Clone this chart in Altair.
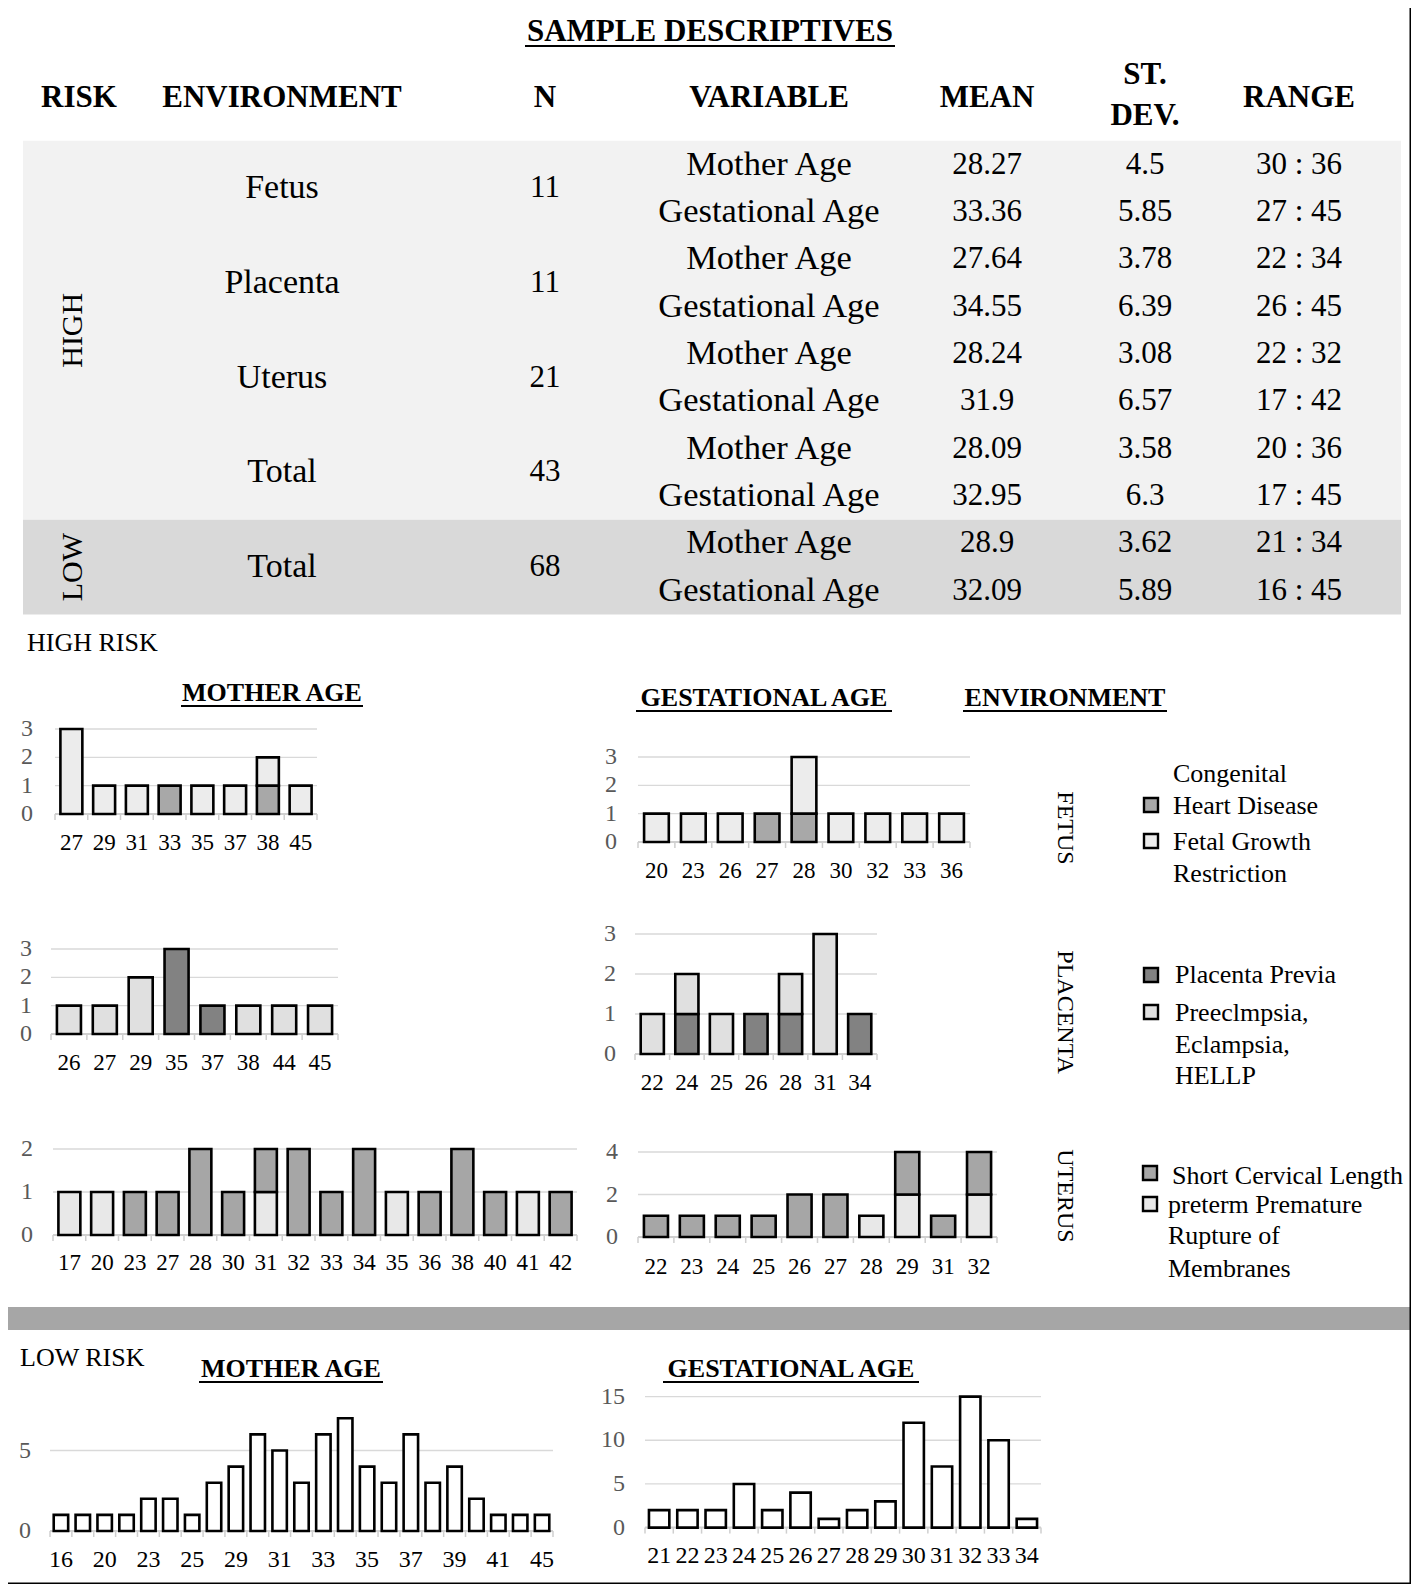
import altair as alt
import pandas as pd

OFF = 8
W, H = 1403, 1576
SERIF = "Liberation Serif"


def X(v):
    return v - OFF


def Y(v):
    return v - OFF


# ---------------- table values
risk_levels = ["HIGH", "LOW"]
environments = ["Fetus", "Placenta", "Uterus", "Total", "Total"]
env_n = ["11", "11", "21", "43", "68"]
variables = ["Mother Age", "Gestational Age"] * 5
means = ["28.27", "33.36", "27.64", "34.55", "28.24", "31.9", "28.09", "32.95", "28.9", "32.09"]
sds = ["4.5", "5.85", "3.78", "6.39", "3.08", "6.57", "3.58", "6.3", "3.62", "5.89"]
ranges = ["30 : 36", "27 : 45", "22 : 34", "26 : 45", "22 : 32", "17 : 42",
          "20 : 36", "17 : 45", "21 : 34", "16 : 45"]

# ---------------- high risk charts
ma_fetus_cats = ["27", "29", "31", "33", "35", "37", "38", "45"]
ma_fetus_chd = [0, 0, 0, 1, 0, 0, 1, 0]
ma_fetus_fgr = [3, 1, 1, 0, 1, 1, 1, 1]
ga_fetus_cats = ["20", "23", "26", "27", "28", "30", "32", "33", "36"]
ga_fetus_chd = [0, 0, 0, 1, 1, 0, 0, 0, 0]
ga_fetus_fgr = [1, 1, 1, 0, 2, 1, 1, 1, 1]

ma_plac_cats = ["26", "27", "29", "35", "37", "38", "44", "45"]
ma_plac_pp = [0, 0, 0, 3, 1, 0, 0, 0]
ma_plac_pe = [1, 1, 2, 0, 0, 1, 1, 1]
ga_plac_cats = ["22", "24", "25", "26", "28", "31", "34"]
ga_plac_pp = [0, 1, 0, 1, 1, 0, 1]
ga_plac_pe = [1, 1, 1, 0, 1, 3, 0]

ma_ut_cats = ["17", "20", "23", "27", "28", "30", "31", "32", "33", "34", "35", "36", "38", "40", "41", "42"]
ma_ut_scl = [0, 0, 1, 1, 2, 1, 1, 2, 1, 2, 0, 1, 2, 1, 0, 1]
ma_ut_prom = [1, 1, 0, 0, 0, 0, 1, 0, 0, 0, 1, 0, 0, 0, 1, 0]
ga_ut_cats = ["22", "23", "24", "25", "26", "27", "28", "29", "31", "32"]
ga_ut_scl = [1, 1, 1, 1, 2, 2, 0, 3, 1, 4]
ga_ut_prom = [0, 0, 0, 0, 0, 0, 1, 2, 0, 2]

# ---------------- low risk charts
low_ma_cats = ["16", "18", "20", "22", "23", "24", "25", "27", "29", "30", "31", "32",
               "33", "34", "35", "36", "37", "38", "39", "40", "41", "43", "45"]
low_ma_counts = [1, 1, 1, 1, 2, 2, 1, 3, 4, 6, 5, 3, 6, 7, 4, 3, 6, 3, 4, 2, 1, 1, 1]
low_ma_shown = ["16", "20", "23", "25", "29", "31", "33", "35", "37", "39", "41", "45"]
low_ga_cats = ["21", "22", "23", "24", "25", "26", "27", "28", "29", "30", "31", "32", "33", "34"]
low_ga_counts = [2, 2, 2, 5, 2, 4, 1, 2, 3, 12, 7, 15, 10, 1]

# series names (bottom -> top of stack)
fetus_series = ["Congenital Heart Disease", "Fetal Growth Restriction"]
plac_series = ["Placenta Previa", "Preeclmpsia, Eclampsia, HELLP"]
ut_series = ["preterm Premature Rupture of Membranes", "Short Cervical Length"]

fetus_colors = ["#a8a8a8", "#ececec"]
plac_colors = ["#828282", "#e0e0e0"]
ut_colors = ["#e8e8e8", "#a6a6a6"]


def txt(s, x, y, size, bold=False, align="center", angle=0, color="black"):
    kw = dict(font=SERIF, fontSize=size, align=align, baseline="middle", color=color)
    if bold:
        kw["fontWeight"] = "bold"
    if angle:
        kw["angle"] = angle
    return alt.Chart(pd.DataFrame({"t": [s]})).mark_text(**kw).encode(
        x=alt.value(X(x)), y=alt.value(Y(y)), text="t:N")


def hline(x0, x1, y, color="black", w=2):
    return alt.Chart(pd.DataFrame({"a": [0]})).mark_rule(color=color, strokeWidth=w).encode(
        x=alt.value(X(x0)), x2=alt.value(X(x1)), y=alt.value(Y(y)))


def box(x0, x1, y0, y1, fill, stroke=None, sw=0):
    kw = dict(fill=fill)
    if stroke:
        kw["stroke"] = stroke
        kw["strokeWidth"] = sw
    return alt.Chart(pd.DataFrame({"a": [0]})).mark_rect(**kw).encode(
        x=alt.value(X(x0)), x2=alt.value(X(x1)), y=alt.value(Y(y0)), y2=alt.value(Y(y1)))


def bar_chart(cats, series, vals, colors, x0, x1, y0, yt, tmax, ticks, label_dy,
              ylab_right, shown=None, band=0.67, clamp=False, xfs=23, yfs=24):
    rows = []
    for si, (s, v) in enumerate(zip(series, vals)):
        for c, n in zip(cats, v):
            if n > 0:
                rows.append({"cat": c, "series": s, "n": n, "o": si})
    df = pd.DataFrame(rows)
    xs = alt.Scale(domain=cats, range=[X(x0), X(x1)], paddingInner=0, paddingOuter=0)
    ys = alt.Scale(domain=[0, tmax], range=[Y(y0), Y(yt)], nice=False, zero=True, clamp=clamp)
    grid = alt.Chart(pd.DataFrame({"v": ticks[1:]})).mark_rule(color="#d9d9d9", strokeWidth=1.3).encode(
        y=alt.Y("v:Q", scale=ys, axis=None), x=alt.value(X(x0)), x2=alt.value(X(x1)))
    base = alt.Chart(pd.DataFrame({"v": [0]})).mark_rule(color="#cfcfcf", strokeWidth=2).encode(
        y=alt.Y("v:Q", scale=ys, axis=None), x=alt.value(X(x0)), x2=alt.value(X(x1)))
    tdf = pd.DataFrame({"cat": cats, "z": [0] * len(cats)})
    tk = alt.Chart(tdf).mark_rule(color="#cfcfcf", strokeWidth=1.5, y2Offset=6).encode(
        x=alt.X("cat:N", scale=xs, axis=None, bandPosition=0),
        y=alt.Y("z:Q", scale=ys, axis=None), y2="z:Q")
    tk_end = alt.Chart(tdf.tail(1)).mark_rule(color="#cfcfcf", strokeWidth=1.5, y2Offset=6).encode(
        x=alt.X("cat:N", scale=xs, axis=None, bandPosition=1),
        y=alt.Y("z:Q", scale=ys, axis=None), y2="z:Q")
    bars = alt.Chart(df).mark_bar(width=alt.RelativeBandSize(band), stroke="black", strokeWidth=2.6).encode(
        x=alt.X("cat:N", scale=xs, axis=None),
        y=alt.Y("n:Q", scale=ys, axis=None, stack="zero"),
        color=alt.Color("series:N", scale=alt.Scale(domain=series, range=colors), legend=None),
        order=alt.Order("o:Q"))
    lab = shown if shown is not None else cats
    xl = alt.Chart(pd.DataFrame({"cat": lab, "z": [0] * len(lab)})).mark_text(
        font=SERIF, fontSize=xfs, dy=label_dy, baseline="middle", color="black").encode(
        x=alt.X("cat:N", scale=xs, axis=None), y=alt.Y("z:Q", scale=ys, axis=None), text="cat:N")
    yl = alt.Chart(pd.DataFrame({"v": ticks})).mark_text(
        font=SERIF, fontSize=yfs, align="right", baseline="middle", color="#595959").encode(
        y=alt.Y("v:Q", scale=ys, axis=None), x=alt.value(X(ylab_right)), text="v:Q")
    return alt.layer(grid, base, tk, tk_end, bars, xl, yl)


def legend(items, lines, x_sq, x_txt):
    # items: list of (color, y); lines: list of (text, y, x)
    layers = []
    for col, yy in items:
        layers.append(box(x_sq - 7, x_sq + 7, yy - 7, yy + 7, col, "black", 2.4))
    for s, yy, xx in lines:
        layers.append(txt(s, xx, yy, 26, align="left"))
    return layers


# ---------------- table
rows_idx = list(range(10))
tdf = pd.DataFrame({"row": rows_idx, "var": variables, "mean": means, "sd": sds, "rng": ranges})
edf = pd.DataFrame({"row": [0.5, 2.5, 4.5, 6.5, 8.5], "env": environments, "n": env_n})
rdf = pd.DataFrame({"row": [3.5, 8.5], "risk": risk_levels})
bgdf = pd.DataFrame({"r0": [-0.5, 7.5], "r1": [7.5, 9.5], "risk": risk_levels})
ts = alt.Scale(domain=[0, 9], range=[Y(164.5), Y(590.8)], nice=False, zero=False)

tbg = alt.Chart(bgdf).mark_rect().encode(
    y=alt.Y("r0:Q", scale=ts, axis=None), y2="r1:Q",
    x=alt.value(X(23)), x2=alt.value(X(1401)),
    color=alt.Color("risk:N", scale=alt.Scale(domain=risk_levels, range=["#f2f2f2", "#d9d9d9"]), legend=None))


def tcol(df, field, x, size, angle=0):
    kw = dict(font=SERIF, fontSize=size, align="center", baseline="middle", color="black")
    if angle:
        kw["angle"] = angle
    return alt.Chart(df).mark_text(**kw).encode(
        y=alt.Y("row:Q", scale=ts, axis=None), x=alt.value(X(x)), text=f"{field}:N")


table = alt.layer(
    tbg,
    tcol(rdf, "risk", 73, 30, angle=270),
    tcol(edf, "env", 282, 34),
    tcol(edf, "n", 545, 31),
    tcol(tdf, "var", 769, 34.5),
    tcol(tdf, "mean", 987, 31),
    tcol(tdf, "sd", 1145, 31),
    tcol(tdf, "rng", 1299, 31),
)

layers = [table]

# titles and headers
layers += [
    txt("SAMPLE DESCRIPTIVES", 710, 32, 31, bold=True),
    hline(525, 895, 46, w=2),
    txt("RISK", 79, 98, 31, bold=True),
    txt("ENVIRONMENT", 282, 98, 31, bold=True),
    txt("N", 545, 98, 31, bold=True),
    txt("VARIABLE", 769, 98, 31, bold=True),
    txt("MEAN", 987, 98, 31, bold=True),
    txt("ST.", 1145, 75, 31, bold=True),
    txt("DEV.", 1145, 116, 31, bold=True),
    txt("RANGE", 1299, 98, 31, bold=True),
    txt("HIGH RISK", 27, 643, 26, align="left"),
    txt("MOTHER AGE", 272, 693, 26, bold=True),
    hline(181, 363, 706, w=2),
    txt("GESTATIONAL AGE", 764, 698, 26, bold=True),
    hline(636, 892, 711, w=2),
    txt("ENVIRONMENT", 1065, 698, 26, bold=True),
    hline(963, 1167, 711, w=2),
    txt("FETUS", 1065, 828, 24, angle=90),
    txt("PLACENTA", 1065, 1012, 24, angle=90),
    txt("UTERUS", 1065, 1196, 24, angle=90),
    box(0, 1420, 1307, 1330, "#a6a6a6"),
    txt("LOW RISK", 20, 1358, 26, align="left"),
    txt("MOTHER AGE", 291, 1369, 26, bold=True),
    hline(199, 383, 1382, w=2),
    txt("GESTATIONAL AGE", 791, 1369, 26, bold=True),
    hline(663, 919, 1382, w=2),
]

# legends
layers += legend([(fetus_colors[0], 805), (fetus_colors[1], 841)],
                 [("Congenital", 774, 1173), ("Heart Disease", 806, 1173),
                  ("Fetal Growth", 842, 1173), ("Restriction", 874, 1173)],
                 1151, 1173)
layers += legend([(plac_colors[0], 975), (plac_colors[1], 1012)],
                 [("Placenta Previa", 975, 1175), ("Preeclmpsia,", 1013, 1175),
                  ("Eclampsia,", 1045, 1175), ("HELLP", 1076, 1175)],
                 1151, 1175)
layers += legend([(ut_colors[1], 1173), (ut_colors[0], 1204)],
                 [("Short Cervical Length", 1176, 1172), ("preterm Premature", 1205, 1168),
                  ("Rupture of", 1236, 1168), ("Membranes", 1269, 1168)],
                 1150, 1168)

# high risk bar charts
layers.append(bar_chart(ma_fetus_cats, fetus_series, [ma_fetus_chd, ma_fetus_fgr], fetus_colors,
                        55, 317, 814, 729, 3, [0, 1, 2, 3], 29, 33))
layers.append(bar_chart(ga_fetus_cats, fetus_series, [ga_fetus_chd, ga_fetus_fgr], fetus_colors,
                        638, 970, 842, 757, 3, [0, 1, 2, 3], 29, 617))
layers.append(bar_chart(ma_plac_cats, plac_series, [ma_plac_pp, ma_plac_pe], plac_colors,
                        51, 338, 1034, 949, 3, [0, 1, 2, 3], 29, 32))
layers.append(bar_chart(ga_plac_cats, plac_series, [ga_plac_pp, ga_plac_pe], plac_colors,
                        635, 877, 1054, 934, 3, [0, 1, 2, 3], 29, 616))
layers.append(bar_chart(ma_ut_cats, ut_series, [ma_ut_prom, ma_ut_scl], ut_colors,
                        53, 577, 1235, 1149, 2, [0, 1, 2], 28, 33))
layers.append(bar_chart(ga_ut_cats, ut_series, [ga_ut_prom, ga_ut_scl], ut_colors,
                        638, 997, 1237, 1152, 4, [0, 2, 4], 30, 618, clamp=True))

# low risk bar charts
layers.append(bar_chart(low_ma_cats, ["Low risk"], [low_ma_counts], ["#ffffff"],
                        50, 553, 1531, 1450.5, 5, [0, 5], 29, 31, shown=low_ma_shown, band=0.66, xfs=24))
layers.append(bar_chart(low_ga_cats, ["Low risk"], [low_ga_counts], ["#ffffff"],
                        645, 1041, 1527.6, 1396.6, 15, [0, 5, 10, 15], 28, 625, band=0.72, xfs=24))

# outer border
layers.append(box(0.5, W + OFF - 0.5, 0.5, H + OFF - 0.5, "transparent", "black", 2))

chart = alt.layer(*layers).resolve_scale(
    x="independent", y="independent", color="independent"
).properties(
    width=W, height=H, autosize=alt.AutoSizeParams(type="none"), padding=0
).configure_view(stroke=None)

chart.save("out.html", embed_options={"renderer": "svg", "actions": False})
